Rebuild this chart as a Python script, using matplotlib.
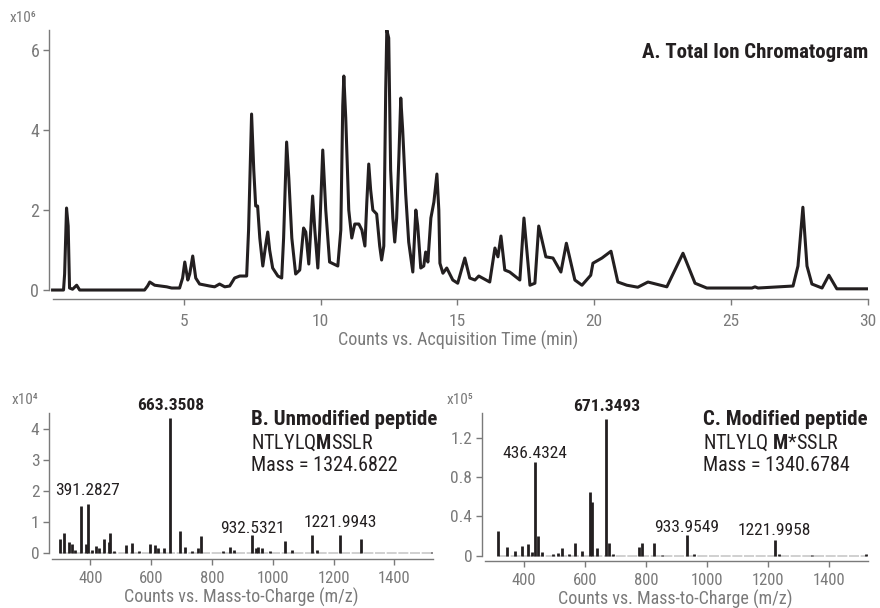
import matplotlib

matplotlib.use("Agg")
import matplotlib.pyplot as plt
from matplotlib import font_manager

INK = "#231f20"
GREY = "#7a7a7a"

# A. total ion chromatogram (min, counts x1e6)
tic_time = [
    0.21, 0.61, 0.65, 0.72, 0.78, 0.83, 0.94, 1.09, 1.20, 3.57, 3.68, 3.76, 3.94,
    4.38, 4.56, 4.85, 4.96, 5.04, 5.15, 5.22, 5.33, 5.44, 5.58, 5.95, 6.13, 6.31,
    6.50, 6.68, 6.86, 7.05, 7.30, 7.37, 7.48, 7.56, 7.63, 7.70, 7.78, 7.89, 7.99,
    8.07, 8.14, 8.25, 8.44, 8.58, 8.65, 8.76, 8.84, 8.95, 9.09, 9.24, 9.38, 9.46,
    9.57, 9.71, 9.79, 9.90, 9.97, 10.08, 10.19, 10.33, 10.63, 10.74, 10.81, 10.85,
    10.92, 11.03, 11.14, 11.25, 11.40, 11.51, 11.62, 11.69, 11.76, 11.83, 11.91,
    12.05, 12.16, 12.23, 12.31, 12.38, 12.42, 12.49, 12.56, 12.64, 12.71, 12.78,
    12.86, 12.93, 13.00, 13.11, 13.22, 13.37, 13.48, 13.55, 13.66, 13.77, 13.84,
    13.92, 14.03, 14.14, 14.25, 14.32, 14.36, 14.47, 14.61, 14.83, 15.01, 15.27,
    15.45, 15.64, 15.78, 16.18, 16.37, 16.48, 16.59, 16.73, 16.91, 17.28, 17.43,
    17.65, 17.83, 17.97, 18.23, 18.49, 18.78, 18.98, 19.29, 19.55, 19.87, 19.95,
    20.28, 20.61, 20.86, 21.19, 21.59, 21.96, 22.65, 23.24, 23.68, 24.11, 25.76,
    25.87, 25.98, 27.26, 27.44, 27.62, 27.77, 27.95, 28.32, 28.57, 28.86, 30.0,
]
tic_counts = [
    0.0, 0.0, 0.4, 2.05, 1.6, 0.05, 0.02, 0.12, 0.0, 0.0, 0.1, 0.2, 0.12,
    0.08, 0.05, 0.05, 0.3, 0.7, 0.25, 0.4, 0.85, 0.3, 0.15, 0.1, 0.08, 0.15,
    0.08, 0.1, 0.3, 0.35, 0.35, 1.5, 4.4, 3.0, 2.1, 2.1, 1.3, 0.6, 1.1,
    1.45, 1.0, 0.55, 0.35, 0.3, 1.3, 3.7, 2.8, 1.3, 0.4, 0.5, 1.55, 1.45,
    0.65, 2.35, 1.5, 0.55, 1.5, 3.5, 2.0, 0.7, 0.6, 1.5, 4.6, 5.35,
    4.3, 2.0, 1.3, 1.65, 1.65, 1.5, 1.1, 2.2, 3.15, 2.5, 2.0,
    1.9, 1.1, 0.75, 1.1, 5.0, 6.5, 6.3, 3.0, 1.8, 1.2, 1.8,
    3.3, 4.8, 4.0, 2.4, 1.2, 0.45, 2.0, 1.6, 0.55, 0.6, 0.95,
    0.7, 1.8, 2.2, 2.9, 2.0, 0.67, 0.42, 0.55, 0.25, 0.17, 0.8,
    0.3, 0.25, 0.35, 0.2, 1.05, 0.83, 1.35, 0.5, 0.45, 0.25, 1.8,
    0.12, 0.17, 1.6, 0.83, 0.8, 0.45, 1.17, 0.25, 0.12, 0.37, 0.67,
    0.8, 0.97, 0.2, 0.12, 0.07, 0.2, 0.08, 0.92, 0.17, 0.05, 0.05,
    0.08, 0.05, 0.1, 0.6, 2.07, 0.6, 0.15, 0.05, 0.37, 0.03, 0.03,
]
time_ticks = [5, 10, 15, 20, 25, 30]
tic_yticks = [0, 2, 4, 6]

# B. unmodified peptide spectrum (m/z, counts x1e4)
mz_b = [
    300, 313, 329, 340, 351, 370, 386, 391.28, 406, 420, 428, 444, 460, 463,
    477, 518, 537, 559, 597, 614, 622, 643, 663.35, 696, 712, 734, 754, 765,
    835, 858, 871, 932.53, 944, 951, 964, 991, 1040, 1062, 1128, 1144,
    1221.99, 1290, 1522,
]
int_b = [
    0.45, 0.65, 0.35, 0.3, 0.1, 1.5, 0.3, 1.57, 0.1, 0.22, 0.15, 0.45, 0.35, 0.65,
    0.05, 0.25, 0.33, 0.05, 0.3, 0.25, 0.15, 0.15, 4.35, 0.7, 0.2, 0.05, 0.15, 0.55,
    0.05, 0.18, 0.08, 0.57, 0.15, 0.2, 0.17, 0.05, 0.4, 0.1, 0.57, 0.1,
    0.57, 0.45, 0.03,
]
noise_b = [300, 1525]
peak_labels_b = ["391.2827", "663.3508", "932.5321", "1221.9943"]
peak_label_y_b = [2.0, 4.77, 0.8, 0.97]
yticks_b = [0, 1, 2, 3, 4]

# C. modified peptide spectrum (m/z, counts x1e5)
mz_c = [
    316, 345, 372, 396, 416, 429, 436.43, 447, 460, 496, 514, 525, 550, 569,
    590, 619, 624, 641, 671.35, 679, 692, 777, 788, 827, 854, 933.95, 958,
    1221.96, 1236, 1345, 1522,
]
int_c = [
    0.25, 0.09, 0.05, 0.1, 0.12, 0.04, 0.95, 0.2, 0.04, 0.02, 0.03, 0.08, 0.02, 0.13,
    0.05, 0.65, 0.54, 0.08, 1.385, 0.13, 0.02, 0.09, 0.13, 0.13, 0.01, 0.21, 0.02,
    0.155, 0.02, 0.01, 0.02,
]
noise_c = [320, 1525]
peak_labels_c = ["436.4324", "671.3493", "933.9549", "1221.9958"]
peak_label_y_c = [1.04, 1.52, 0.29, 0.25]
yticks_c = [0, 0.4, 0.8, 1.2]

mz_ticks = [400, 600, 800, 1000, 1200, 1400]


def pick_narrow_font():
    entries = font_manager.fontManager.ttflist
    names = {entry.name for entry in entries}
    for name in ("Liberation Sans Narrow", "Roboto Condensed", "Open Sans Condensed",
                 "Noto Sans Condensed", "Arial Narrow"):
        if name in names:
            return name, "normal"
    for name in ("DejaVu Sans", "Noto Sans", "Open Sans", "Roboto"):
        if any(e.name == name and e.stretch in ("condensed", "semi-condensed") for e in entries):
            return name, "condensed"
    return "Roboto", "normal"


FONT, STRETCH = pick_narrow_font()
plt.rcParams["font.family"] = [FONT, "DejaVu Sans"]
plt.rcParams["font.stretch"] = STRETCH
plt.rcParams["mathtext.fontset"] = "custom"
plt.rcParams["mathtext.rm"] = f"{FONT}:stretch={STRETCH}"
plt.rcParams["mathtext.bf"] = f"{FONT}:weight=bold:stretch={STRETCH}"


def style_axis(axis, outward):
    for side in ("top", "right"):
        axis.spines[side].set_visible(False)
    for side in ("left", "bottom"):
        axis.spines[side].set_color(GREY)
        axis.spines[side].set_linewidth(1.0)
    axis.spines["bottom"].set_position(("outward", outward))
    axis.tick_params(colors=GREY, labelcolor=GREY, length=4, width=1.0)


figure = plt.figure(figsize=(8.8, 6.08), dpi=100)

# chromatogram
ax_a = figure.add_axes([0.0557, 0.5197, 0.9307, 0.4309])
ax_a.plot(tic_time, tic_counts, color=INK, linewidth=2.2, solid_joinstyle="round")
ax_a.set_xlim(0.08, 30)
ax_a.set_ylim(-0.05, 6.5)
ax_a.set_xticks(time_ticks)
ax_a.set_yticks(tic_yticks)
style_axis(ax_a, 5)
ax_a.spines["left"].set_bounds(0, 6.5)
ax_a.spines["bottom"].set_bounds(0.21, 30)
ax_a.tick_params(axis="x", labelsize=12.5, pad=6.5)
ax_a.tick_params(axis="y", labelsize=13, pad=3)
ax_a.set_xlabel("Counts vs. Acquisition Time (min)", color=GREY, fontsize=13, labelpad=2)
ax_a.text(1.0, 0.916, "A. Total Ion Chromatogram", transform=ax_a.transAxes,
          ha="right", va="center", fontsize=15, fontweight="bold", color=INK)
figure.text(0.011, 0.970, "x10⁶", color=GREY, fontsize=11, va="center")


def draw_spectrum(axis, mz, intensity, noise, labels, label_y, label_bold, yticks, ylim, outward):
    axis.plot(noise, [0, 0], color="#c8c8c8", linewidth=1.2, linestyle=(0, (6, 1)))
    axis.vlines(mz, 0, intensity, color=INK, linewidth=2.0)
    for text, y in zip(labels, label_y):
        axis.text(float(text), y, text, ha="center", va="center", fontsize=12.5,
                  color=INK, fontweight="bold" if text == label_bold else "normal")
    axis.set_xlim(264, 1527)
    axis.set_ylim(*ylim)
    axis.set_xticks(mz_ticks)
    axis.set_yticks(yticks)
    axis.set_yticklabels([f"{v:g}" for v in yticks])
    style_axis(axis, outward)
    axis.spines["left"].set_bounds(0, ylim[1])
    axis.spines["bottom"].set_bounds(274, 1527)
    axis.tick_params(axis="x", labelsize=12, pad=5)
    axis.tick_params(axis="y", labelsize=12.5, pad=3)
    axis.set_xlabel("Counts vs. Mass-to-Charge (m/z)", color=GREY, fontsize=13, labelpad=1)


ax_b = figure.add_axes([0.0557, 0.088, 0.4364, 0.232])
draw_spectrum(ax_b, mz_b, int_b, noise_b, peak_labels_b, peak_label_y_b, "663.3508",
              yticks_b, (-0.05, 4.5), 3)
ax_b.text(0.526, 0.954, "B. Unmodified peptide", transform=ax_b.transAxes,
          ha="left", va="center", fontsize=15, fontweight="bold", color=INK)
ax_b.text(0.526, 0.791, r"NTLYLQ$\mathbf{M}$SSLR", transform=ax_b.transAxes,
          ha="left", va="center", fontsize=14.5, color=INK)
ax_b.text(0.526, 0.628, "Mass = 1324.6822", transform=ax_b.transAxes,
          ha="left", va="center", fontsize=14.5, color=INK)
figure.text(0.013, 0.342, "x10⁴", color=GREY, fontsize=11, va="center")

ax_c = figure.add_axes([0.5477, 0.0847, 0.4386, 0.236])
draw_spectrum(ax_c, mz_c, int_c, noise_c, peak_labels_c, peak_label_y_c, "671.3493",
              yticks_c, (-0.01, 1.45), 3)
ax_c.text(0.5725, 0.958, "C. Modified peptide", transform=ax_c.transAxes,
          ha="left", va="center", fontsize=15, fontweight="bold", color=INK)
ax_c.text(0.5725, 0.791, r"NTLYLQ $\mathbf{M}$*SSLR", transform=ax_c.transAxes,
          ha="left", va="center", fontsize=14.5, color=INK)
ax_c.text(0.5725, 0.631, "Mass = 1340.6784", transform=ax_c.transAxes,
          ha="left", va="center", fontsize=14.5, color=INK)
figure.text(0.508, 0.342, "x10⁵", color=GREY, fontsize=11, va="center")

figure.savefig("out.png", dpi=100)
plt.close(figure)
